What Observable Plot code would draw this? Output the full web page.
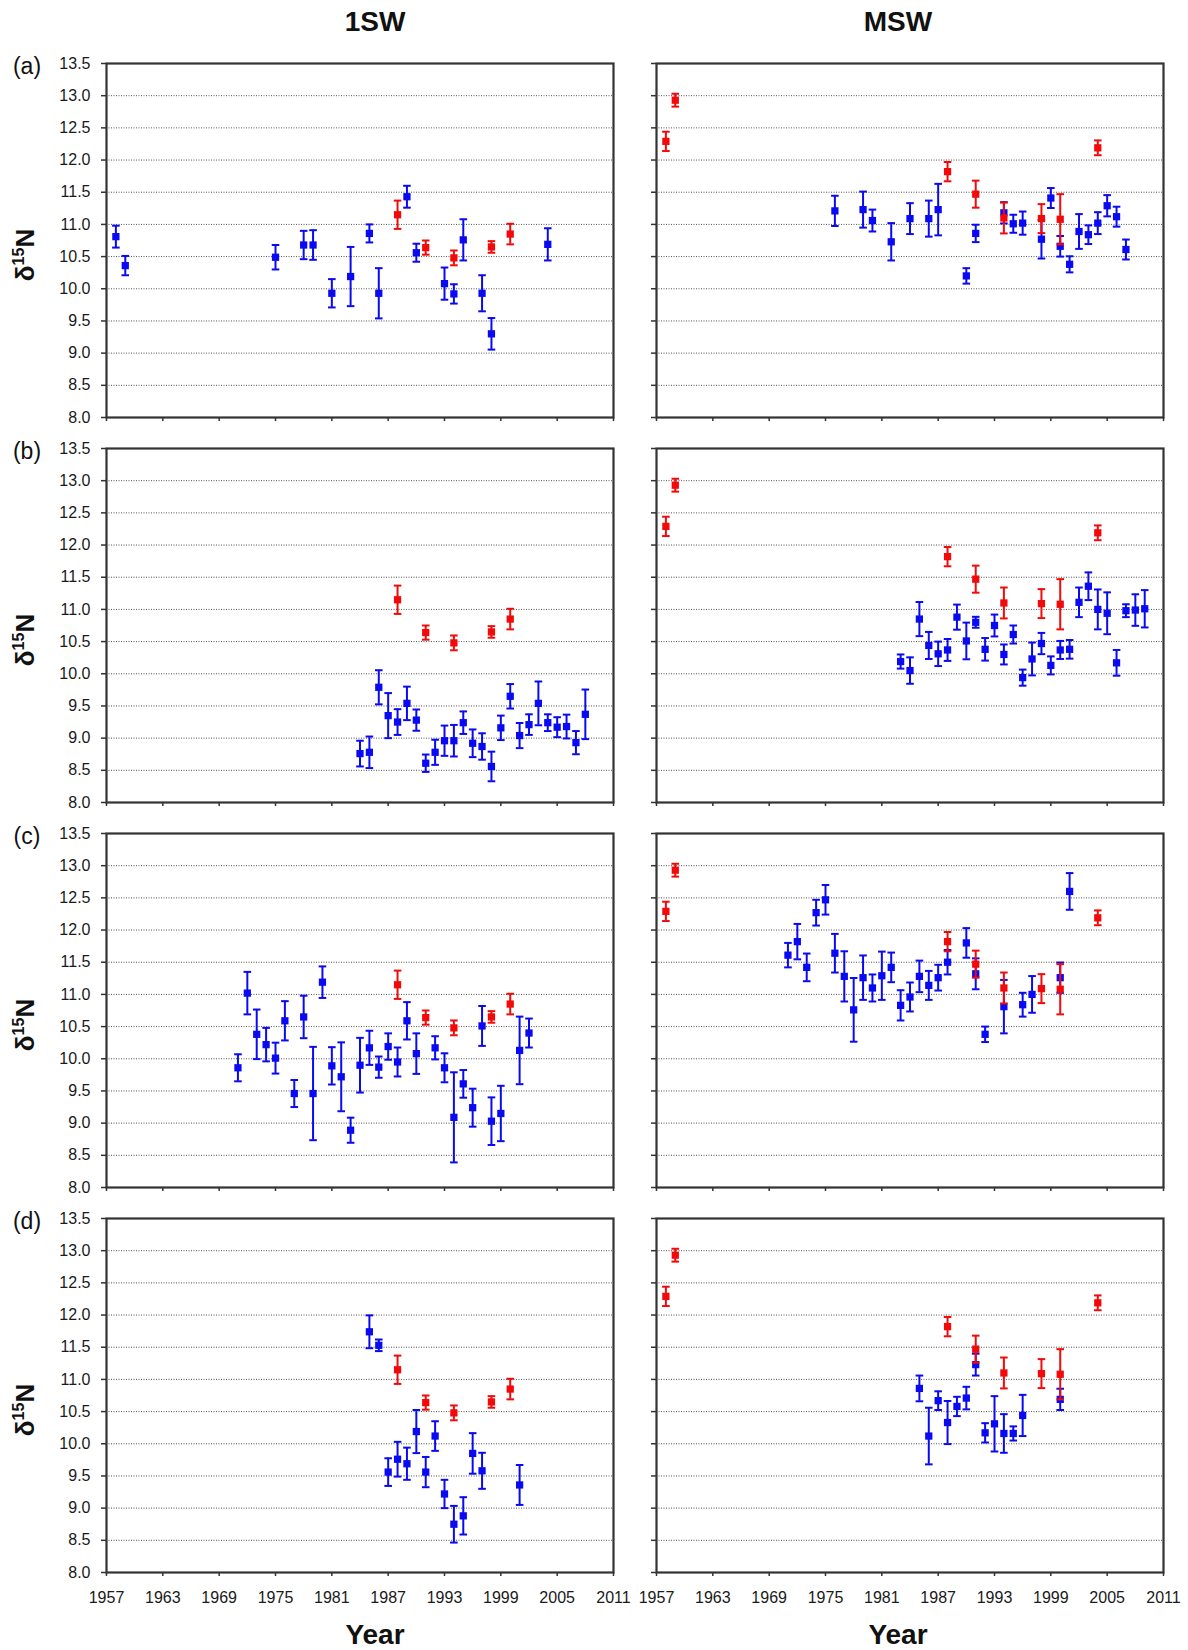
<!DOCTYPE html>
<html><head><meta charset="utf-8">
<script src="https://cdn.jsdelivr.net/npm/d3@7"></script>
<script src="https://cdn.jsdelivr.net/npm/@observablehq/plot@0.6"></script>
<style>
html,body{margin:0;padding:0;background:#fff;}
#wrap{position:relative;width:1188px;height:1650px;font-family:"Liberation Sans",Arial,sans-serif;color:#111;overflow:hidden;}
.lab{position:absolute;transform:translate(-50%,-50%);line-height:1;white-space:nowrap;}
.col{font-weight:bold;font-size:28px;}
.row{font-size:23px;color:#111;}
.ylab{font-weight:bold;font-size:26px;transform:translate(-50%,-50%) rotate(-90deg);}
.ylab sup{font-size:16px;vertical-align:baseline;position:relative;top:-0.62em;}
.panel{position:absolute;}
</style></head>
<body><div id="wrap"></div>
<script>
// ---------- axis ticks ----------
const xTicks = [1957, 1963, 1969, 1975, 1981, 1987, 1993, 1999, 2005, 2011];
const yTicks = [8.0, 8.5, 9.0, 9.5, 10.0, 10.5, 11.0, 11.5, 12.0, 12.5, 13.0, 13.5];
const colTitles = ["1SW", "MSW"];
const rowLetters = ["(a)", "(b)", "(c)", "(d)"];

// ---------- red reference series (same in every panel of a column) ----------
const ref1SW_year = [1988, 1991, 1994, 1998, 2000];
const ref1SW_val  = [11.15, 10.64, 10.48, 10.65, 10.85];
const ref1SW_err  = [0.22, 0.11, 0.115, 0.09, 0.16];

const refMSW_year = [1958, 1959, 1988, 1991, 1994, 1998, 2000, 2004];
const refMSW_val  = [12.29, 12.93, 11.82, 11.47, 11.10, 11.09, 11.08, 12.19];
const refMSW_err  = [0.15, 0.10, 0.15, 0.21, 0.24, 0.225, 0.39, 0.115];

// ---------- (a) ----------
const a1SW_year = [1958, 1959, 1975, 1978, 1979, 1981, 1983, 1985, 1986, 1989, 1990, 1993, 1994, 1995, 1997, 1998, 2004];
const a1SW_val  = [10.81, 10.36, 10.49, 10.68, 10.68, 9.93, 10.19, 10.86, 9.93, 11.43, 10.56, 10.08, 9.92, 10.76, 9.93, 9.30, 10.69];
const a1SW_err  = [0.17, 0.15, 0.19, 0.22, 0.23, 0.22, 0.46, 0.14, 0.39, 0.17, 0.14, 0.25, 0.15, 0.32, 0.28, 0.245, 0.25];

const aMSW_year = [1976, 1979, 1980, 1982, 1984, 1986, 1987, 1990, 1991, 1994, 1995, 1996, 1998, 1999, 2000, 2001, 2002, 2003, 2004, 2005, 2006, 2007];
const aMSW_val  = [11.21, 11.23, 11.06, 10.73, 11.09, 11.09, 11.23, 10.20, 10.86, 11.18, 11.01, 11.02, 10.77, 11.41, 10.66, 10.38, 10.89, 10.84, 11.02, 11.29, 11.12, 10.61];
const aMSW_err  = [0.235, 0.28, 0.17, 0.29, 0.24, 0.28, 0.40, 0.12, 0.135, 0.165, 0.14, 0.18, 0.30, 0.155, 0.16, 0.125, 0.27, 0.145, 0.17, 0.165, 0.155, 0.155];

// ---------- (b) ----------
const b1SW_year = [1984, 1985, 1986, 1987, 1988, 1989, 1990, 1991, 1992, 1993, 1994, 1995, 1996, 1997, 1998, 1999, 2000, 2001, 2002, 2003, 2004, 2005, 2006, 2007, 2008];
const b1SW_val  = [8.76, 8.78, 9.79, 9.35, 9.25, 9.54, 9.28, 8.61, 8.78, 8.96, 8.96, 9.24, 8.92, 8.87, 8.56, 9.16, 9.65, 9.04, 9.21, 9.54, 9.24, 9.17, 9.18, 8.93, 9.37];
const b1SW_err  = [0.20, 0.245, 0.265, 0.35, 0.20, 0.26, 0.165, 0.135, 0.195, 0.235, 0.245, 0.175, 0.215, 0.205, 0.23, 0.19, 0.19, 0.195, 0.16, 0.34, 0.13, 0.155, 0.185, 0.18, 0.385];

const bMSW_year = [1983, 1984, 1985, 1986, 1987, 1988, 1989, 1990, 1991, 1992, 1993, 1994, 1995, 1996, 1997, 1998, 1999, 2000, 2001, 2002, 2003, 2004, 2005, 2006, 2007, 2008, 2009];
const bMSW_val  = [10.19, 10.05, 10.85, 10.44, 10.31, 10.37, 10.88, 10.51, 10.80, 10.38, 10.75, 10.30, 10.61, 9.94, 10.23, 10.47, 10.13, 10.37, 10.38, 11.11, 11.36, 11.00, 10.94, 10.17, 10.98, 10.99, 11.01];
const bMSW_err  = [0.11, 0.205, 0.265, 0.21, 0.19, 0.17, 0.195, 0.285, 0.085, 0.175, 0.17, 0.155, 0.14, 0.125, 0.255, 0.165, 0.14, 0.14, 0.145, 0.23, 0.215, 0.31, 0.325, 0.20, 0.10, 0.245, 0.29];

// ---------- (c) ----------
const c1SW_year = [1971, 1972, 1973, 1974, 1975, 1976, 1977, 1978, 1979, 1980, 1981, 1982, 1983, 1984, 1985, 1986, 1987, 1988, 1989, 1990, 1992, 1993, 1994, 1995, 1996, 1997, 1998, 1999, 2001, 2002];
const c1SW_val  = [9.86, 11.02, 10.38, 10.22, 10.01, 10.59, 9.46, 10.65, 9.46, 11.19, 9.89, 9.72, 8.89, 9.90, 10.17, 9.87, 10.19, 9.95, 10.59, 10.08, 10.17, 9.86, 9.09, 9.61, 9.24, 10.51, 9.03, 9.15, 10.13, 10.40];
const c1SW_err  = [0.21, 0.33, 0.385, 0.26, 0.24, 0.305, 0.21, 0.33, 0.725, 0.245, 0.29, 0.535, 0.195, 0.425, 0.265, 0.165, 0.205, 0.225, 0.29, 0.315, 0.18, 0.225, 0.70, 0.215, 0.295, 0.31, 0.37, 0.43, 0.525, 0.225];

const cMSW_year = [1971, 1972, 1973, 1974, 1975, 1976, 1977, 1978, 1979, 1980, 1981, 1982, 1983, 1984, 1985, 1986, 1987, 1988, 1990, 1991, 1992, 1994, 1996, 1997, 2000, 2001];
const cMSW_val  = [11.61, 11.82, 11.42, 12.27, 12.47, 11.64, 11.28, 10.76, 11.26, 11.10, 11.29, 11.42, 10.83, 10.96, 11.28, 11.14, 11.26, 11.50, 11.80, 11.32, 10.38, 10.81, 10.84, 11.00, 11.26, 12.60];
const cMSW_err  = [0.19, 0.275, 0.215, 0.20, 0.23, 0.30, 0.39, 0.495, 0.345, 0.21, 0.375, 0.23, 0.235, 0.225, 0.245, 0.225, 0.20, 0.19, 0.23, 0.24, 0.12, 0.415, 0.185, 0.285, 0.235, 0.285];

// ---------- (d) ----------
const d1SW_year = [1985, 1986, 1987, 1988, 1989, 1990, 1991, 1992, 1993, 1994, 1995, 1996, 1997, 2001];
const d1SW_val  = [11.74, 11.53, 9.56, 9.76, 9.69, 10.19, 9.56, 10.12, 9.22, 8.75, 8.88, 9.85, 9.58, 9.36];
const d1SW_err  = [0.255, 0.09, 0.215, 0.27, 0.25, 0.335, 0.235, 0.23, 0.22, 0.285, 0.29, 0.315, 0.28, 0.31];

const dMSW_year = [1985, 1986, 1987, 1988, 1989, 1990, 1991, 1992, 1993, 1994, 1995, 1996, 2000];
const dMSW_val  = [10.86, 10.12, 10.67, 10.33, 10.58, 10.71, 11.23, 10.17, 10.31, 10.16, 10.16, 10.44, 10.69];
const dMSW_err  = [0.20, 0.44, 0.145, 0.335, 0.15, 0.175, 0.17, 0.15, 0.43, 0.30, 0.11, 0.32, 0.165];

// ---------- build ----------
const BLUE = "#0a0af2";
const RED = "#f20a0a";
const zip = (ys, vs, es) => ys.map((y, i) => ({year: y, v: vs[i], e: es[i]}));
const ref = [zip(ref1SW_year, ref1SW_val, ref1SW_err), zip(refMSW_year, refMSW_val, refMSW_err)];
const series = [
  [zip(a1SW_year, a1SW_val, a1SW_err), zip(aMSW_year, aMSW_val, aMSW_err)],
  [zip(b1SW_year, b1SW_val, b1SW_err), zip(bMSW_year, bMSW_val, bMSW_err)],
  [zip(c1SW_year, c1SW_val, c1SW_err), zip(cMSW_year, cMSW_val, cMSW_err)],
  [zip(d1SW_year, d1SW_val, d1SW_err), zip(dMSW_year, dMSW_val, dMSW_err)]
];

const frameLeft = [106, 656];
const frameTop = [62.5, 447.5, 832.5, 1217.5];
const FW = 507, FH = 354;

const capSym = {draw(ctx, size) { const r = Math.sqrt(size / Math.PI); ctx.moveTo(-r, 0); ctx.lineTo(r, 0); }};

function layer(data, color) {
  return [
    Plot.ruleX(data, {x: "year", y1: d => d.v - d.e, y2: d => d.v + d.e, stroke: color, strokeWidth: 2}),
    Plot.dot(data, {x: "year", y: d => d.v + d.e, symbol: capSym, r: 3.8, stroke: color, strokeWidth: 2, fill: "none"}),
    Plot.dot(data, {x: "year", y: d => d.v - d.e, symbol: capSym, r: 3.8, stroke: color, strokeWidth: 2, fill: "none"}),
    Plot.dot(data, {x: "year", y: "v", symbol: "square", r: 4.1, fill: color, stroke: "none"})
  ];
}

const wrap = document.getElementById("wrap");

for (let row = 0; row < 4; row++) {
  for (let col = 0; col < 2; col++) {
    const isLeft = col === 0, isBottom = row === 3;
    const mL = isLeft ? 106 : 12, mR = 10, mT = 10, mB = isBottom ? 40 : 10;
    const svg = Plot.plot({
      width: mL + FW + mR,
      height: mT + FH + mB,
      marginLeft: mL, marginRight: mR, marginTop: mT, marginBottom: mB,
      x: {domain: [1957, 2011], label: null},
      y: {domain: [8, 13.5], label: null},
      style: {fontFamily: '"Liberation Sans", Arial, sans-serif', fontSize: "16px", color: "#1a1a1a", background: "transparent", overflow: "visible"},
      marks: [
        Plot.gridY(yTicks.filter(v => v > 8 && v < 13.5), {stroke: "#555", strokeOpacity: 1, strokeDasharray: "1,1.5", strokeWidth: 1}),
        Plot.axisX(xTicks, {tickSize: 4, tickPadding: 15, tickFormat: isBottom ? (d => String(d)) : (() => ""), label: null, stroke: "#333", strokeWidth: 1.5}),
        Plot.axisY(yTicks, {tickSize: 5, tickPadding: 11, tickFormat: isLeft ? (d => d.toFixed(1)) : (() => ""), label: null, stroke: "#333", strokeWidth: 1.5}),
        Plot.frame({stroke: "#333", strokeWidth: 2.2}),
        ...layer(series[row][col], BLUE),
        ...layer(ref[col], RED)
      ]
    });
    svg.classList.add("panel");
    svg.style.left = (frameLeft[col] - mL) + "px";
    svg.style.top = (frameTop[row] - mT) + "px";
    wrap.appendChild(svg);
  }
  // row letter
  const L = document.createElement("div");
  L.className = "lab row";
  L.textContent = rowLetters[row];
  L.style.left = "27px";
  L.style.top = (frameTop[row] + 3) + "px";
  wrap.appendChild(L);
  // y label
  const Y = document.createElement("div");
  Y.className = "lab ylab";
  Y.innerHTML = "δ<sup>15</sup>N";
  Y.style.left = "25px";
  Y.style.top = (frameTop[row] + FH / 2 + 15) + "px";
  wrap.appendChild(Y);
}

const titleX = [375, 898];
for (let col = 0; col < 2; col++) {
  const T = document.createElement("div");
  T.className = "lab col";
  T.textContent = colTitles[col];
  T.style.left = titleX[col] + "px";
  T.style.top = "22px";
  wrap.appendChild(T);
  const X = document.createElement("div");
  X.className = "lab col";
  X.textContent = "Year";
  X.style.left = titleX[col] + "px";
  X.style.top = "1635px";
  wrap.appendChild(X);
}
</script>
</body></html>
